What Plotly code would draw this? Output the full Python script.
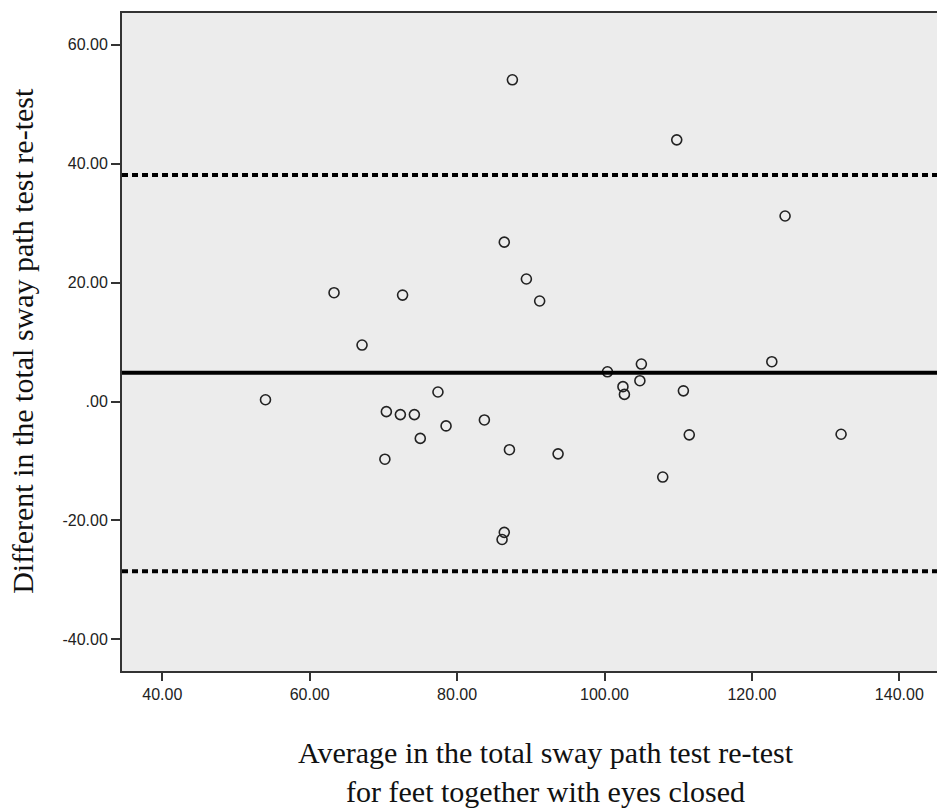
import plotly.graph_objects as go

# Data (Bland-Altman plot)
avg_values = [54.0, 63.3, 67.1, 70.2, 70.4, 72.3, 72.6, 74.2, 75.0, 77.4, 78.5,
              83.7, 86.1, 86.4, 86.4, 87.1, 87.5, 89.4, 91.2, 93.7, 100.4, 102.5,
              102.7, 104.8, 105.0, 107.9, 109.8, 110.7, 111.5, 122.7, 124.5, 132.1]
diff_values = [0.3, 18.3, 9.5, -9.7, -1.7, -2.2, 17.9, -2.2, -6.2, 1.6, -4.1,
               -3.1, -23.2, -22.0, 26.8, -8.1, 54.1, 20.6, 16.9, -8.8, 5.0, 2.5,
               1.2, 3.5, 6.3, -12.7, 44.0, 1.8, -5.6, 6.7, 31.2, -5.5]

mean_diff = 4.85
upper_loa = 38.1
lower_loa = -28.55

x_tick_vals = [40, 60, 80, 100, 120, 140]
x_tick_text = ["40.00", "60.00", "80.00", "100.00", "120.00", "140.00"]
y_tick_vals = [-40, -20, 0, 20, 40, 60]
y_tick_text = ["-40.00", "-20.00", ".00", "20.00", "40.00", "60.00"]

x_title = "Average in the total sway path test re-test<br>for feet together with eyes closed"
y_title = "Different in the total sway path test re-test"

fig = go.Figure()
fig.add_trace(go.Scatter(
    x=avg_values, y=diff_values, mode="markers",
    marker=dict(symbol="circle-open", size=10, color="#222222",
                line=dict(width=1.6, color="#222222")),
    showlegend=False, hoverinfo="x+y"))

fig.add_hline(y=upper_loa, line=dict(color="black", width=4, dash="6px,4px"))
fig.add_hline(y=lower_loa, line=dict(color="black", width=4, dash="6px,4px"))
fig.add_hline(y=mean_diff, line=dict(color="black", width=4))

tickfont = dict(family="Liberation Sans, Arial, sans-serif", size=16, color="#222222")
fig.update_xaxes(range=[34.53, 145.52], tickvals=x_tick_vals, ticktext=x_tick_text,
                 showgrid=False, zeroline=False, showline=True, mirror=True,
                 linecolor="#333333", linewidth=2, ticks="outside", ticklen=8,
                 tickwidth=2, tickcolor="#333333", tickfont=tickfont)
fig.update_yaxes(range=[-45.31, 65.33], tickvals=y_tick_vals, ticktext=y_tick_text,
                 showgrid=False, zeroline=False, showline=True, mirror=True,
                 linecolor="#333333", linewidth=2, ticks="outside", ticklen=9,
                 tickwidth=2, tickcolor="#333333", tickfont=tickfont,
                 ticklabelstandoff=0)

titlefont = dict(family="Liberation Serif, Times New Roman, serif", size=30, color="#111111")
fig.add_annotation(text=x_title, xref="paper", yref="paper", x=0.518, y=-0.095,
                   xanchor="center", yanchor="top", showarrow=False, font=titlefont)
fig.add_annotation(text=y_title, xref="paper", yref="paper", x=-0.1225, y=0.5015,
                   xanchor="center", yanchor="middle", textangle=-90, showarrow=False,
                   font=titlefont, borderpad=0)

# The page body adds an 8px offset; size the figure so the plot area lands where the reference has it.
fig.update_layout(width=937, height=802, margin=dict(l=114, r=5, t=3, b=139),
                  plot_bgcolor="#ececec", paper_bgcolor="white")

fig.write_html("out.html")
